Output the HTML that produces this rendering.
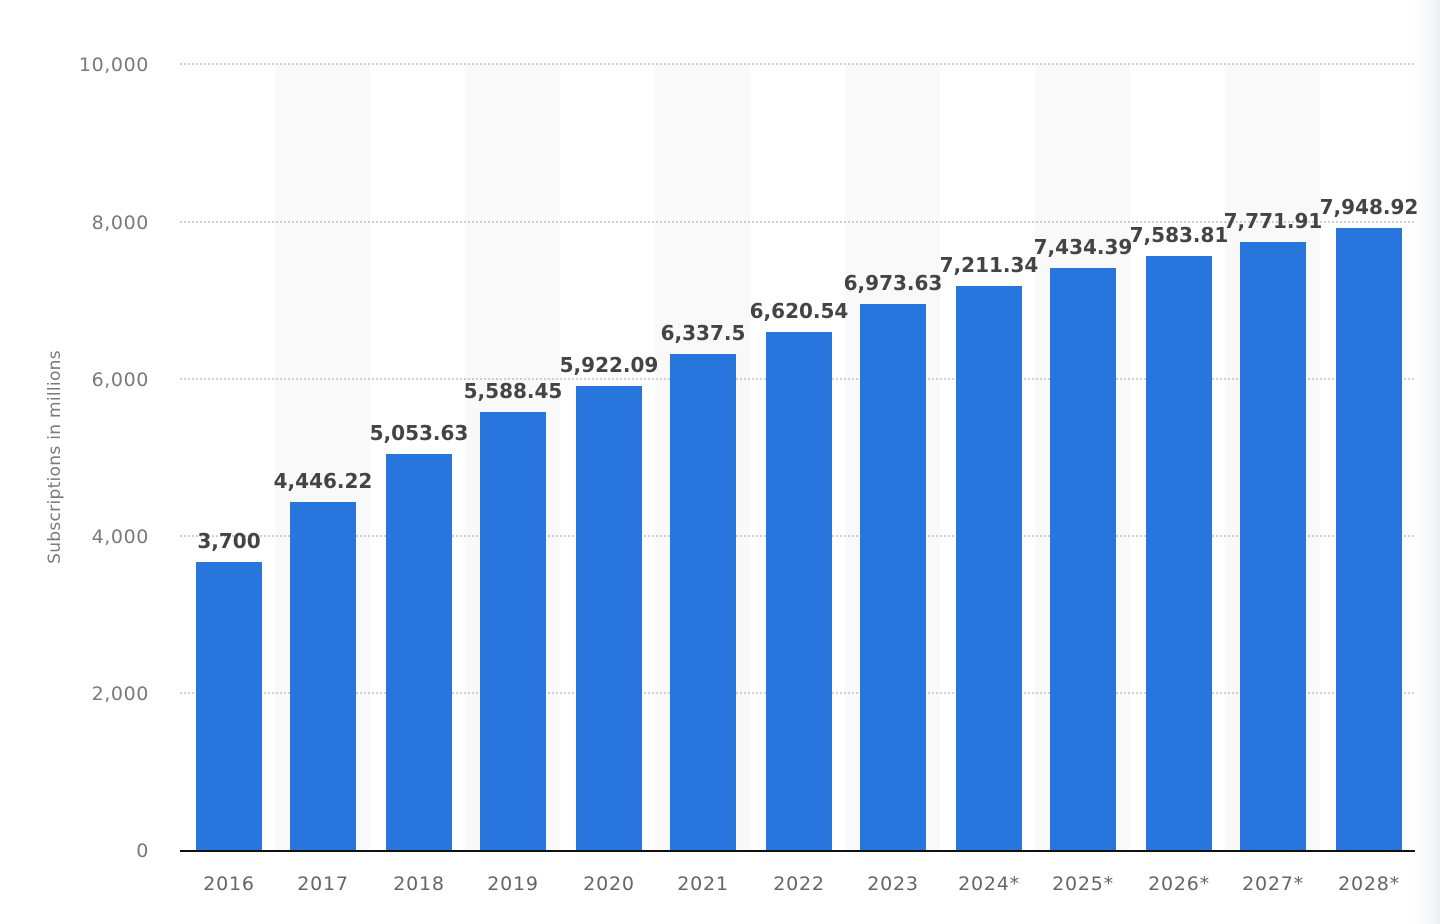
<!DOCTYPE html>
<html><head><meta charset="utf-8"><style>
html,body{margin:0;padding:0;background:#fff;}
svg{display:block;font-family:"DejaVu Sans","Liberation Sans",sans-serif;}
</style></head><body>
<svg width="1440" height="924" viewBox="0 0 1440 924" xmlns="http://www.w3.org/2000/svg">
<defs><linearGradient id="rg" x1="0" x2="1"><stop offset="0" stop-color="#fff" stop-opacity="0"/><stop offset="1" stop-color="#eceef0"/></linearGradient></defs>
<rect width="1440" height="924" fill="#fff"/>
<g fill="#f9f9f9">
<rect x="275" y="64" width="95" height="786"/>
<rect x="465" y="64" width="95" height="786"/>
<rect x="655" y="64" width="95" height="786"/>
<rect x="845" y="64" width="95" height="786"/>
<rect x="1035" y="64" width="95" height="786"/>
<rect x="1225" y="64" width="95" height="786"/>
</g>
<rect x="1405" y="0" width="35" height="924" fill="url(#rg)"/>
<g stroke="#b5b5b5" stroke-width="1.2" stroke-dasharray="2,2">
<line x1="180" x2="1415" y1="64" y2="64"/>
<line x1="180" x2="1415" y1="222" y2="222"/>
<line x1="180" x2="1415" y1="379" y2="379"/>
<line x1="180" x2="1415" y1="536" y2="536"/>
<line x1="180" x2="1415" y1="693" y2="693"/>
</g>
<g fill="#7a7a7a" font-size="19" text-anchor="end" letter-spacing="0.6">
<text x="149" y="71">10,000</text>
<text x="149" y="229">8,000</text>
<text x="149" y="386">6,000</text>
<text x="149" y="543">4,000</text>
<text x="149" y="700">2,000</text>
<text x="149" y="857">0</text>
</g>
<text transform="translate(60,457) rotate(-90)" text-anchor="middle" fill="#7a7a7a" font-size="17" letter-spacing="0.3">Subscriptions in millions</text>
<g fill="#2876dd">
<rect x="196" y="562" width="66" height="289"/>
<rect x="290" y="502" width="66" height="349"/>
<rect x="386" y="454" width="66" height="397"/>
<rect x="480" y="412" width="66" height="439"/>
<rect x="576" y="386" width="66" height="465"/>
<rect x="670" y="354" width="66" height="497"/>
<rect x="766" y="332" width="66" height="519"/>
<rect x="860" y="304" width="66" height="547"/>
<rect x="956" y="286" width="66" height="565"/>
<rect x="1050" y="268" width="66" height="583"/>
<rect x="1146" y="256" width="66" height="595"/>
<rect x="1240" y="242" width="66" height="609"/>
<rect x="1336" y="228" width="66" height="623"/>
</g>
<line x1="180" x2="1415" y1="851" y2="851" stroke="#111" stroke-width="2"/>
<g fill="#444" font-size="20" font-weight="bold" text-anchor="middle">
<text x="229" y="548">3,700</text>
<text x="323" y="488">4,446.22</text>
<text x="419" y="440">5,053.63</text>
<text x="513" y="398">5,588.45</text>
<text x="609" y="372">5,922.09</text>
<text x="703" y="340">6,337.5</text>
<text x="799" y="318">6,620.54</text>
<text x="893" y="290">6,973.63</text>
<text x="989" y="272">7,211.34</text>
<text x="1083" y="254">7,434.39</text>
<text x="1179" y="242">7,583.81</text>
<text x="1273" y="228">7,771.91</text>
<text x="1369" y="214">7,948.92</text>
</g>
<g fill="#666" font-size="19" text-anchor="middle" letter-spacing="0.8">
<text x="229" y="890">2016</text>
<text x="323" y="890">2017</text>
<text x="419" y="890">2018</text>
<text x="513" y="890">2019</text>
<text x="609" y="890">2020</text>
<text x="703" y="890">2021</text>
<text x="799" y="890">2022</text>
<text x="893" y="890">2023</text>
<text x="989" y="890">2024*</text>
<text x="1083" y="890">2025*</text>
<text x="1179" y="890">2026*</text>
<text x="1273" y="890">2027*</text>
<text x="1369" y="890">2028*</text>
</g>
</svg>
</body></html>
